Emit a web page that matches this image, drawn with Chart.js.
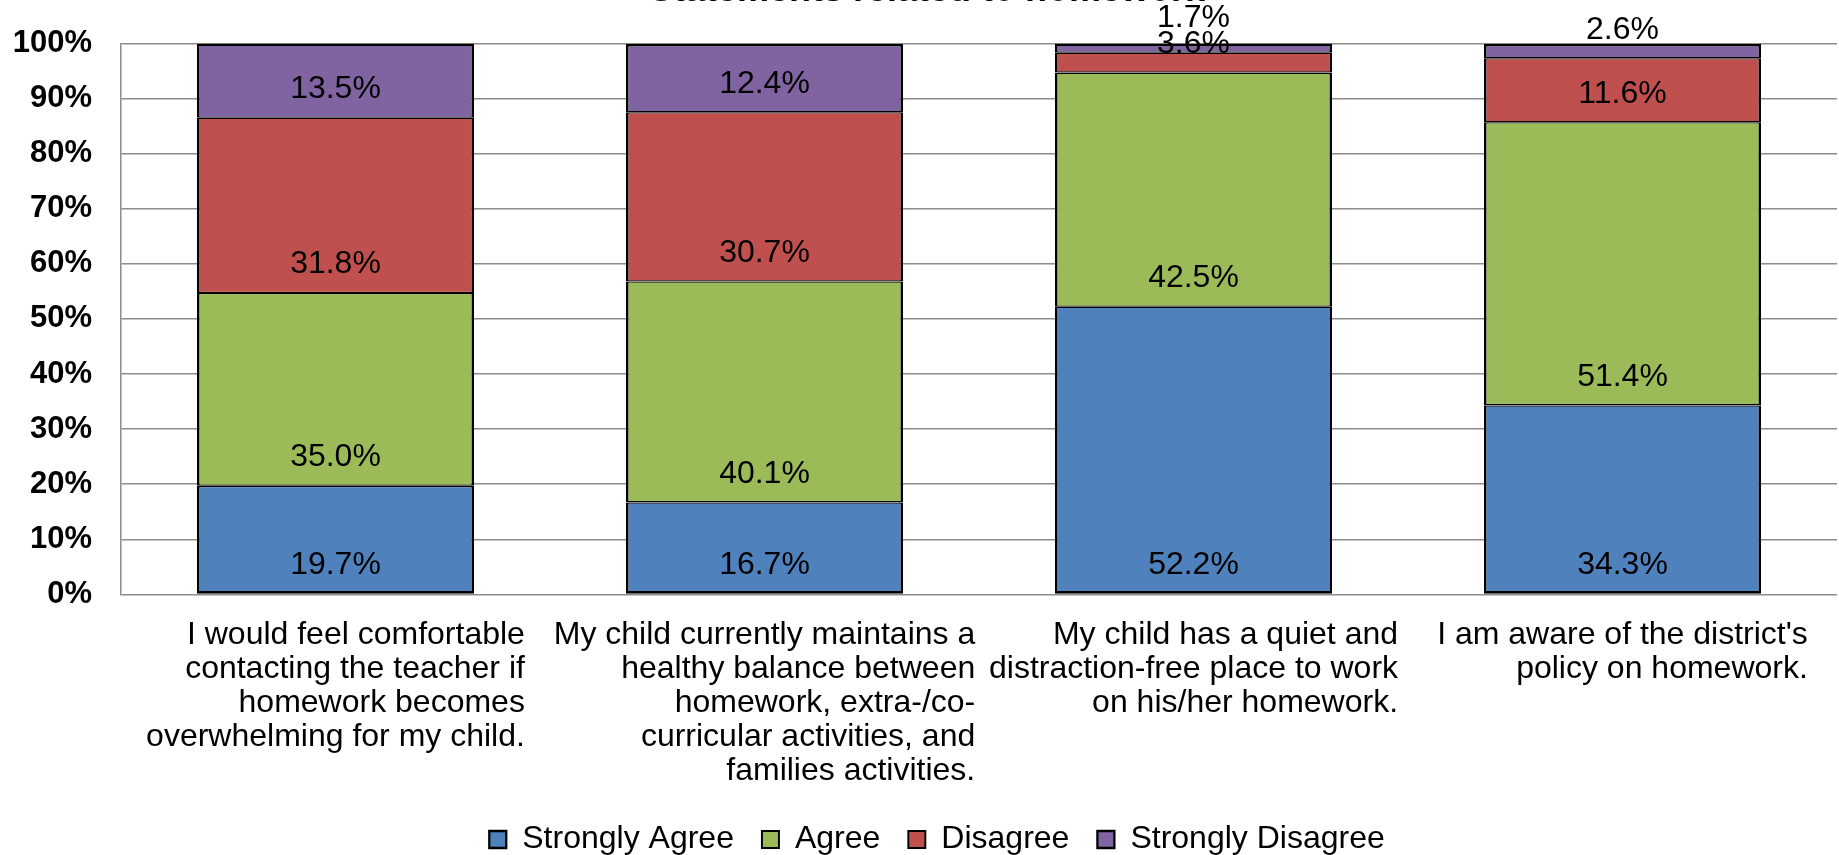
<!DOCTYPE html>
<html>
<head>
<meta charset="utf-8">
<script src="https://cdn.jsdelivr.net/npm/chart.js@4.4.1/dist/chart.umd.min.js"></script>
<style>
  html, body { margin: 0; padding: 0; background: #ffffff; }
  #wrap { width: 1839px; height: 855px; position: relative; }
</style>
</head>
<body>
<div id="wrap"><canvas id="c"></canvas></div>
<script>
// ---- data ----
const categories = [
  ["I would feel comfortable", "contacting the teacher if", "homework becomes", "overwhelming for my child."],
  ["My child currently maintains a", "healthy balance between", "homework, extra-/co-", "curricular activities, and", "families activities."],
  ["My child has a quiet and", "distraction-free place to work", "on his/her homework."],
  ["I am aware of the district's", "policy on homework."]
];
const seriesNames = ["Strongly Agree", "Agree", "Disagree", "Strongly Disagree"];
const stronglyAgree    = [19.7, 16.7, 52.2, 34.3];
const agree            = [35.0, 40.1, 42.5, 51.4];
const disagree         = [31.8, 30.7,  3.6, 11.6];
const stronglyDisagree = [13.5, 12.4,  1.7,  2.6];
const yTickValues = [0, 10, 20, 30, 40, 50, 60, 70, 80, 90, 100];
const titleText = "Statements related to homework";

// ---- styles ----
const FONT = '"Liberation Sans", Arial, Helvetica, sans-serif';
const colors = ["#4F81BD", "#9BBB59", "#C0504D", "#8064A2"];
const GRID = "#8c8c8c";
// manual vertical nudge (px) of individual data labels: "datasetIndex,index"
const labelNudge = { "3,2": -6 };

Chart.defaults.color = "#000";
Chart.defaults.font.family = FONT;

const seriesValues = [stronglyAgree, agree, disagree, stronglyDisagree];
const nSeries = seriesNames.length;
const datasets = seriesNames.map((name, i) => ({
  label: name,
  data: seriesValues[i],
  backgroundColor: colors[i],
  borderColor: "#000",
  borderWidth: {
    left: 2.6, right: 2.6,
    top: i === nSeries - 1 ? 2.6 : 1.3,
    bottom: i === 0 ? 2.6 : 1.3
  },
  borderSkipped: false,
  categoryPercentage: 0.646,
  barPercentage: 1.0
}));

const dataLabelPlugin = {
  id: "dataLabels",
  afterDatasetsDraw(chart) {
    const ctx = chart.ctx;
    ctx.save();
    ctx.font = "32px " + FONT;
    ctx.fillStyle = "#000";
    ctx.textAlign = "center";
    ctx.textBaseline = "middle";
    chart.data.datasets.forEach((ds, di) => {
      const meta = chart.getDatasetMeta(di);
      meta.data.forEach((bar, i) => {
        const y = bar.base - 28.5 + (labelNudge[di + "," + i] || 0);
        ctx.fillText(ds.data[i].toFixed(1) + "%", bar.x, y);
      });
    });
    ctx.restore();
  }
};

const categoryLabelPlugin = {
  id: "categoryLabels",
  afterDraw(chart) {
    const ctx = chart.ctx;
    const xs = chart.scales.x;
    ctx.save();
    ctx.font = "32px " + FONT;
    ctx.fillStyle = "#000";
    ctx.textAlign = "right";
    ctx.textBaseline = "middle";
    chart.data.labels.forEach((lines, i) => {
      const cx = xs.getPixelForValue(i);
      const w = Math.max(...lines.map(l => ctx.measureText(l).width));
      const right = cx + w / 2;
      lines.forEach((l, k) => {
        ctx.fillText(l, right, chart.chartArea.bottom + 41 + k * 34);
      });
    });
    ctx.restore();
  }
};

// shift legend / title boxes horizontally to match the original centring
const boxShiftPlugin = {
  id: "boxShift",
  beforeDraw(chart) {
    if (chart.legend && !chart.legend._shifted) {
      chart.legend.left += 16; chart.legend.right += 16; chart.legend._shifted = true;
    }
    if (chart.titleBlock && !chart.titleBlock._shifted) {
      chart.titleBlock.left += 6; chart.titleBlock.right += 6; chart.titleBlock._shifted = true;
    }
  }
};

new Chart(document.getElementById("c"), {
  type: "bar",
  data: { labels: categories, datasets: datasets },
  options: {
    responsive: true,
    maintainAspectRatio: false,
    animation: false,
    devicePixelRatio: 1,
    layout: { padding: { left: 5, right: 2, top: 0, bottom: -10.5 } },
    plugins: {
      tooltip: { enabled: false },
      title: {
        display: true,
        text: titleText,
        font: { size: 36, weight: "bold", family: FONT, lineHeight: 1.2 },
        color: "#000",
        padding: { top: -31, bottom: 31.2 }
      },
      legend: {
        position: "bottom",
        labels: {
          font: { size: 32, family: FONT },
          boxWidth: 17,
          boxHeight: 17,
          padding: 28,
          color: "#000"
        }
      }
    },
    scales: {
      x: {
        stacked: true,
        grid: { display: false, drawTicks: false },
        border: { display: false },
        ticks: { display: false },
        afterFit(scale) { scale.height = 201.1; }
      },
      y: {
        stacked: true,
        min: 0,
        max: 100,
        afterBuildTicks(scale) { scale.ticks = yTickValues.map(v => ({ value: v })); },
        ticks: {
          padding: 29,
          font: { size: 31, weight: "bold", family: FONT },
          color: "#000",
          callback: v => v + "%"
        },
        grid: { color: GRID, lineWidth: 1.5, drawTicks: false },
        border: { display: true, color: GRID, width: 1.5 },
        afterFit(scale) {
          scale.width = 116;
          scale.paddingTop = 0;
          scale.paddingBottom = 0;
        }
      }
    }
  },
  plugins: [dataLabelPlugin, categoryLabelPlugin, boxShiftPlugin]
});
</script>
</body>
</html>
